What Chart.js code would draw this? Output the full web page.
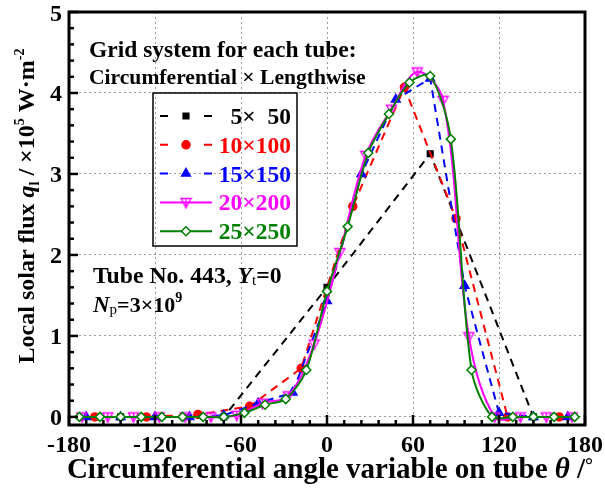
<!DOCTYPE html>
<html><head><meta charset="utf-8">
<script src="https://cdn.jsdelivr.net/npm/chart.js@4.4.1/dist/chart.umd.min.js"></script>
<style>html,body{margin:0;padding:0;background:#fff}</style>
</head><body>
<canvas id="c" width="605" height="488" style="width:605px;height:488px;display:block"></canvas>
<script>
// ---- data ----
const thetaTicks = [-180, -120, -60, 0, 60, 120, 180];
const fluxTicks = [0, 1, 2, 3, 4, 5];
const seriesLabels = ['5\u00d7  50', '10\u00d7100', '15\u00d7150', '20\u00d7200', '25\u00d7250'];
const theta5 = [-144, -72, 0, 72, 144];
const flux5 = [0, 0, 1.6, 3.25, 0];
const theta10 = [-162, -126, -90, -54, -18, 18, 54, 90, 126, 162];
const flux10 = [0, 0, 0.03, 0.13, 0.6, 2.6, 4.07, 2.45, 0, 0];
const theta15 = [-168, -144, -120, -96, -72, -48, -24, 0, 24, 48, 72, 96, 120, 144, 168];
const flux15 = [0, 0, 0, 0, 0.02, 0.17, 0.3, 1.43, 3.0, 3.92, 4.18, 1.62, 0.05, 0, 0];
const theta20 = [-171, -153, -135, -117, -99, -81, -63, -45, -27, -9, 9, 27, 45, 63, 81, 99, 117, 135, 153, 171];
const flux20 = [0, 0, 0, 0, 0, 0, 0.02, 0.17, 0.26, 0.9, 2.03, 3.23, 3.8, 4.26, 3.91, 0.99, 0, 0, 0, 0];
const theta25 = [-172.8, -158.4, -144, -129.6, -115.2, -100.8, -86.4, -72, -57.6, -43.2, -28.8, -14.4, 0, 14.4, 28.8, 43.2, 57.6, 72, 86.4, 100.8, 115.2, 129.6, 144, 158.4, 172.8];
const flux25 = [0, 0, 0, 0, 0, 0, 0, 0, 0.05, 0.15, 0.22, 0.58, 1.55, 2.35, 3.26, 3.74, 4.13, 4.21, 3.43, 0.58, 0, 0, 0, 0, 0];

const FAM = '"Liberation Serif", "Times New Roman", serif';
const pts = (xs, ys) => xs.map((x, i) => ({x: x, y: ys[i]}));

// hollow down-triangle with a vertical stroke (marker of the 20x200 series)
function makeDownTri(color) {
  const c = document.createElement('canvas');
  c.width = 13; c.height = 13;
  const g = c.getContext('2d');
  g.strokeStyle = color; g.lineWidth = 1.4;
  g.beginPath();
  g.moveTo(1.5, 2.5); g.lineTo(11.5, 2.5); g.lineTo(6.5, 11.5); g.closePath();
  g.stroke();
  g.beginPath(); g.moveTo(6.5, 2.5); g.lineTo(6.5, 12.5); g.stroke();
  return c;
}
const magTri = makeDownTri('#ff00ff');

const styles = [
  {color: '#000000', dash: [8, 6], pointStyle: 'rect', radius: 4, fill: '#000000', tension: 0, rotation: 0},
  {color: '#ff0000', dash: [8, 6], pointStyle: 'circle', radius: 4, fill: '#ff0000', tension: 0, rotation: 0},
  {color: '#0000ff', dash: [8, 6], pointStyle: 'triangle', radius: 5, fill: '#0000ff', tension: 0, rotation: 0},
  {color: '#ff00ff', dash: [], pointStyle: magTri, radius: 5, fill: 'rgba(255,255,255,0)', tension: 0.35, rotation: 0},
  {color: '#008000', dash: [], pointStyle: 'rectRot', radius: 4.5, fill: '#ffffff', tension: 0.3, rotation: 0}
];
const seriesData = [pts(theta5, flux5), pts(theta10, flux10), pts(theta15, flux15), pts(theta20, flux20), pts(theta25, flux25)];

const datasets = seriesData.map((d, i) => ({
  label: seriesLabels[i],
  data: d,
  borderColor: styles[i].color,
  borderWidth: 2,
  borderDash: styles[i].dash,
  tension: styles[i].tension,
  pointStyle: styles[i].pointStyle,
  pointRotation: styles[i].rotation,
  pointRadius: styles[i].radius,
  pointBackgroundColor: styles[i].fill,
  pointBorderColor: styles[i].color,
  pointBorderWidth: 1.5,
  order: 5 - i,
  fill: false
}));

function drawRuns(ctx, runs, x, y, align) {
  let total = 0;
  runs.forEach(r => { ctx.font = r.font; total += ctx.measureText(r.t).width; });
  let cx = align === 'center' ? x - total / 2 : (align === 'right' ? x - total : x);
  ctx.textAlign = 'left';
  ctx.textBaseline = 'alphabetic';
  runs.forEach(r => {
    ctx.font = r.font;
    ctx.fillStyle = r.color || '#000';
    ctx.fillText(r.t, cx, y + (r.dy || 0));
    cx += ctx.measureText(r.t).width;
  });
}

const decor = {
  id: 'decor',
  afterDraw(chart) {
    const ctx = chart.ctx;
    const a = chart.chartArea;
    const xs = chart.scales.x, ys = chart.scales.y;
    ctx.save();
    // frame
    ctx.strokeStyle = '#000';
    ctx.lineWidth = 3;
    ctx.setLineDash([]);
    ctx.strokeRect(a.left, a.top, a.right - a.left, a.bottom - a.top);
    // inward ticks
    ctx.lineWidth = 2.5;
    for (let v = -180; v <= 180; v += 12) {
      const px = xs.getPixelForValue(v);
      const len = (v % 60 === 0) ? 10 : 5;
      ctx.beginPath(); ctx.moveTo(px, a.bottom); ctx.lineTo(px, a.bottom - len); ctx.stroke();
    }
    for (let k = 0; k <= 25; k++) {
      const py = ys.getPixelForValue(k * 0.2);
      const len = (k % 5 === 0) ? 9 : 5;
      ctx.beginPath(); ctx.moveTo(a.left, py); ctx.lineTo(a.left + len, py); ctx.stroke();
    }
    // tick labels
    ctx.fillStyle = '#000';
    ctx.font = 'bold 24px ' + FAM;
    ctx.textAlign = 'center'; ctx.textBaseline = 'alphabetic';
    thetaTicks.forEach(v => ctx.fillText(String(v), xs.getPixelForValue(v), 452));
    ctx.textAlign = 'right';
    fluxTicks.forEach(v => ctx.fillText(String(v), 62, ys.getPixelForValue(v) + 8.5));
    const B = (s) => 'bold ' + s + 'px ' + FAM;
    const BI = (s) => 'italic bold ' + s + 'px ' + FAM;
    const R = (s) => s + 'px ' + FAM;
    // x title
    drawRuns(ctx, [
      {t: 'Circumferential angle variable on tube ', font: B(29)},
      {t: '\u03b8', font: BI(29)},
      {t: ' /', font: B(29)},
      {t: '\u00b0', font: B(20), dy: -6}
    ], 330, 478, 'center');
    // y title
    ctx.save();
    ctx.translate(34, 206);
    ctx.rotate(-Math.PI / 2);
    drawRuns(ctx, [
      {t: 'Local solar flux ', font: B(24)},
      {t: 'q', font: BI(24)},
      {t: 'l', font: B(14), dy: 5},
      {t: ' / \u00d710', font: B(24)},
      {t: '5', font: B(14), dy: -10},
      {t: ' W\u00b7m', font: B(24)},
      {t: '-2', font: B(14), dy: -10}
    ], 0, 0, 'center');
    ctx.restore();
    // annotations
    drawRuns(ctx, [{t: 'Grid system for each tube:', font: B(23.5)}], 89, 57, 'left');
    drawRuns(ctx, [{t: 'Circumferential \u00d7 Lengthwise', font: B(21.6)}], 89, 84, 'left');
    drawRuns(ctx, [
      {t: 'Tube No. 443, ', font: B(23.7)},
      {t: 'Y', font: BI(23.7)},
      {t: 't', font: R(15), dy: 2},
      {t: '=0', font: B(23.7)}
    ], 93, 283, 'left');
    drawRuns(ctx, [
      {t: 'N', font: BI(23)},
      {t: 'p', font: R(15), dy: 2},
      {t: '=3\u00d710', font: B(22)},
      {t: '9', font: B(14), dy: -10}
    ], 93, 312, 'left');
    // legend
    ctx.lineWidth = 1.5;
    ctx.strokeStyle = '#000';
    ctx.strokeRect(153, 93, 144, 153);
    for (let i = 0; i < 5; i++) {
      const st = styles[i];
      const y = 116 + 28.8 * i;
      ctx.strokeStyle = st.color;
      ctx.lineWidth = 2;
      ctx.setLineDash([]);
      ctx.beginPath();
      if (st.dash.length) {
        ctx.moveTo(160, y); ctx.lineTo(168, y);
        ctx.moveTo(204, y); ctx.lineTo(212, y);
      } else {
        ctx.moveTo(160, y); ctx.lineTo(212, y);
      }
      ctx.stroke();
      ctx.fillStyle = st.fill;
      ctx.lineWidth = 1.5;
      Chart.helpers.drawPoint(ctx, {pointStyle: st.pointStyle, rotation: st.rotation, radius: st.radius, borderWidth: 1.5}, 186, y);
      drawRuns(ctx, [{t: seriesLabels[i], font: B(23.5), color: st.color}], 291, y + 8, 'right');
    }
    ctx.restore();
  }
};

new Chart(document.getElementById('c'), {
  type: 'line',
  data: {datasets: datasets},
  options: {
    responsive: false,
    animation: false,
    devicePixelRatio: 1,
    layout: {padding: {top: 12, right: 20, left: 0, bottom: 0}},
    plugins: {legend: {display: false}, tooltip: {enabled: false}},
    scales: {
      x: {
        type: 'linear', min: -180, max: 180,
        afterBuildTicks: (s) => { s.ticks = thetaTicks.map(v => ({value: v})); },
        afterFit: (s) => { s.height = 63; },
        ticks: {display: false},
        grid: {color: '#9a9a9a', lineWidth: 1, drawTicks: false},
        border: {display: false, dash: [2, 3]}
      },
      y: {
        type: 'linear', min: -0.1, max: 5,
        afterBuildTicks: (s) => { s.ticks = fluxTicks.map(v => ({value: v})); },
        afterFit: (s) => { s.width = 69; },
        ticks: {display: false},
        grid: {color: '#9a9a9a', lineWidth: 1, drawTicks: false},
        border: {display: false, dash: [2, 3]}
      }
    }
  },
  plugins: [decor]
});
</script>
</body></html>
